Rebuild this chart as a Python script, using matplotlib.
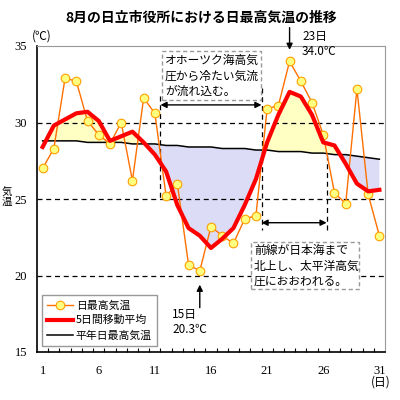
import numpy as np
import matplotlib.pyplot as plt
from matplotlib.patches import Rectangle

plt.rcParams["font.family"] = ["Noto Sans CJK JP", "DejaVu Sans"]

# data
DAYS = list(range(1, 32))
DAILY_MAX = [27.0, 28.3, 32.9, 32.7, 30.1, 29.2, 28.6, 30.0, 26.2, 31.6, 30.6,
             25.2, 26.0, 20.7, 20.3, 23.2, 22.6, 22.1, 23.7, 23.9, 30.9, 31.1,
             34.0, 32.7, 31.3, 29.2, 25.4, 24.7, 32.2, 25.3, 22.6]
MOVING_AVG = [28.4, 29.8, 30.2, 30.6, 30.7, 30.1, 28.8, 29.1, 29.4, 28.7, 27.9,
              26.8, 24.6, 23.1, 22.6, 21.8, 22.4, 23.1, 24.6, 26.3, 28.7, 30.5,
              32.0, 31.7, 30.5, 28.7, 28.5, 27.3, 26.0, 25.5, 25.6]
NORMAL = [28.8, 28.8, 28.8, 28.8, 28.7, 28.7, 28.7, 28.7, 28.6, 28.6, 28.6,
          28.5, 28.5, 28.4, 28.4, 28.4, 28.3, 28.3, 28.3, 28.2, 28.2, 28.1,
          28.1, 28.1, 28.0, 28.0, 27.9, 27.9, 27.8, 27.7, 27.6]
XTICKS = [1, 6, 11, 16, 21, 26, 31]
YTICKS = [15, 20, 25, 30, 35]
GRID_Y = [20, 25, 30]
PERIOD_EDGES = [11.5, 20.5, 26.3]

ORANGE = "#FF7000"
YELLOW_MK = "#FFFF80"
MK_EDGE = "#FFA000"
FILL_WARM = "#FFFFC4"
FILL_COOL = "#DCDCF6"


def fxy(px, py):
    # pixel position on the 400x400 canvas -> figure fraction
    return px / 400, 1 - py / 400


fig = plt.figure(figsize=(4, 4), dpi=100)
ax = fig.add_axes([37 / 400, 48 / 400, 348 / 400, 306 / 400])

days = np.array(DAYS)
ma = np.array(MOVING_AVG)
nrm = np.array(NORMAL)

ax.fill_between(days, ma, nrm, where=ma >= nrm, interpolate=True,
                color=FILL_WARM, lw=0, zorder=1)
ax.fill_between(days, ma, nrm, where=ma <= nrm, interpolate=True,
                color=FILL_COOL, lw=0, zorder=1)

for g in GRID_Y:
    ax.axhline(g, color="black", lw=0.9, ls=(0, (4, 3)), zorder=2)

# period separators
ax.plot([PERIOD_EDGES[0]] * 2, [31.7, 25.0], color="black", lw=0.9, ls=(0, (4, 3)), zorder=2)
ax.plot([PERIOD_EDGES[1]] * 2, [32.25, 23.0], color="black", lw=0.9, ls=(0, (4, 3)), zorder=2)
ax.plot([PERIOD_EDGES[2]] * 2, [27.9, 23.0], color="black", lw=0.9, ls=(0, (4, 3)), zorder=2)

arrow = dict(arrowstyle="<|-|>", color="black", lw=1.0, mutation_scale=9, shrinkA=0, shrinkB=0)
ax.annotate("", xy=(PERIOD_EDGES[0], 31.15), xytext=(PERIOD_EDGES[1], 31.15), arrowprops=arrow, zorder=3)
ax.annotate("", xy=(PERIOD_EDGES[1], 23.45), xytext=(PERIOD_EDGES[2], 23.45), arrowprops=arrow, zorder=3)

ax.plot(days, nrm, color="black", lw=1.1, zorder=3, label="平年日最高気温")
ax.plot(days, DAILY_MAX, color=ORANGE, lw=1.0, marker="o", ms=6.2,
        mfc=YELLOW_MK, mec=MK_EDGE, mew=0.8, zorder=4, label="日最高気温")
ax.plot(days, ma, color="#FF0000", lw=3.0, zorder=5, label="5日間移動平均")

ax.set_xlim(0.5, 31.5)
ax.set_ylim(15, 35)
ax.set_xticks(XTICKS)
ax.set_xticks(np.arange(1.5, 31, 1.0), minor=True)
ax.set_yticks(YTICKS)
ax.tick_params(axis="x", which="major", length=0, pad=9)
ax.tick_params(axis="x", which="minor", direction="in", length=3, width=0.8)
ax.tick_params(axis="y", length=0, pad=7)
for lab in ax.get_xticklabels() + ax.get_yticklabels():
    lab.set_fontfamily("Liberation Serif")
    lab.set_fontsize(9)

for s in ["top", "right"]:
    ax.spines[s].set_color("#999999")
for s in ["left", "bottom"]:
    ax.spines[s].set_color("black")
    ax.spines[s].set_linewidth(1.2)

# legend
h, l = ax.get_legend_handles_labels()
order = [1, 2, 0]
leg = ax.legend([h[i] for i in order], [l[i] for i in order],
                loc="upper left", bbox_to_anchor=((42 - 37) / 348, (352 - 295) / 306),
                borderaxespad=0, fancybox=False, edgecolor="#999999", framealpha=1,
                fontsize=7.8, handlelength=2.4, handletextpad=0.25, labelspacing=0.45,
                borderpad=0.45)
leg.get_frame().set_linewidth(1.0)

# title and axis texts
fig.text(*fxy(201, 18), "8月の日立市役所における日最高気温の推移", ha="center", va="center",
         fontsize=10, fontweight="bold")
fig.text(*fxy(42, 36), "(℃)", ha="center", va="center", fontsize=8.5)
fig.text(*fxy(7, 197), "気\n温", ha="center", va="center", fontsize=7.5, linespacing=1.05)
fig.text(*fxy(381, 382), "(日)", ha="center", va="center", fontsize=8.5)

# dashed note boxes
for (x0, y0, x1, y1) in [(162, 51, 261, 100), (251, 242, 359, 289)]:
    ax.add_patch(Rectangle(fxy(x0, y1), (x1 - x0) / 400, (y1 - y0) / 400,
                           transform=fig.transFigure, fc="white", ec="#999999",
                           ls=(0, (3, 2)), lw=1.0, clip_on=False, zorder=6))
ax.text(*fxy(165, 76), "オホーツク海高気\n圧から冷たい気流\nが流れ込む。", transform=fig.transFigure,
        ha="left", va="center", fontsize=8.5, linespacing=1.25, zorder=7)
ax.text(*fxy(254, 266), "前線が日本海まで\n北上し、太平洋高気\n圧におおわれる。", transform=fig.transFigure,
        ha="left", va="center", fontsize=8.5, linespacing=1.25, zorder=7)

# peak / bottom notes
down = dict(arrowstyle="-|>", color="black", lw=1.0, mutation_scale=9, shrinkA=0, shrinkB=0)
ax.annotate("", xy=(23, 34.75), xytext=(23, 36.2), arrowprops=down, annotation_clip=False, zorder=7)
ax.annotate("", xy=(15, 19.4), xytext=(15, 17.9), arrowprops=down, zorder=7)
fig.text(*fxy(302, 44), "23日\n34.0℃", ha="left", va="center", fontsize=8.5, linespacing=1.2)
fig.text(*fxy(172, 322), "15日\n20.3℃", ha="left", va="center", fontsize=8.5, linespacing=1.2)

fig.savefig("out.png", dpi=100)
